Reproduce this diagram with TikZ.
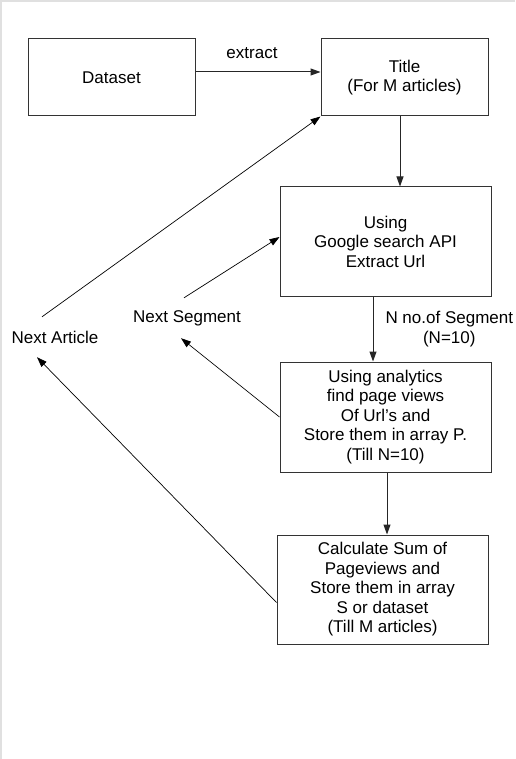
\documentclass[tikz,border=0pt]{standalone}
\usepackage{fontspec}
\setmainfont{Liberation Sans}
\usetikzlibrary{arrows.meta,positioning}

\begin{document}
\begin{tikzpicture}[x=1pt,y=-1pt,>={Triangle[length=10pt,width=7pt]},
    font=\fontsize{17}{19.5}\selectfont]
  \tikzstyle{box}=[draw=black!80,line width=1pt,align=center,inner sep=0pt]
  \tikzstyle{lbl}=[align=center,inner sep=0pt,minimum height=40pt]
  \tikzstyle{flow}=[->,line width=1pt,draw=black!85]
  \tikzstyle{back}=[->,line width=0.7pt]
  \useasboundingbox (0,0) rectangle (515,759);
  % page edge
  \fill[black!12] (0,0) rectangle (515,2);
  \fill[black!12] (0,0) rectangle (2,759);
  \node[box,minimum width=167pt,minimum height=77pt] (data) at (111.5,77.5) {Dataset};
  \node[box,minimum width=167pt,minimum height=77pt,right=125pt of data] (title) {Title\\(For M articles)};
  \node[box,minimum width=211pt,minimum height=109pt,below=70pt of title,xshift=-19pt] (google) {Using\\Google search API\\Extract Url};
  \node[box,minimum width=211pt,minimum height=110pt,below=65pt of google] (views) {Using analytics\\find page views\\Of Url’s and\\Store them in array P.\\(Till N=10)};
  \node[box,minimum width=211pt,minimum height=109pt,below=62pt of views,xshift=-3pt] (sum) {Calculate Sum of\\Pageviews and\\Store them in array\\S or dataset\\(Till M articles)};
  \node[lbl] (nseg) at (187,318) {Next Segment};
  \node[lbl] (nart) at (55,337) {Next Article};
  \draw[flow] ([yshift=5.5pt]data.east) -- node[above=13pt,xshift=-6pt,inner sep=0pt] (ext) {extract} ([yshift=5.5pt]title.west);
  \draw[flow] ([xshift=-4.5pt]title.south) -- ([xshift=-4.5pt]title.south |- google.north);
  \draw[flow] ([xshift=-12.5pt]google.south) -- node[right=12pt,align=center,inner sep=0pt] (nno) {N no.of Segment\\(N=10)} ([xshift=-12.5pt]google.south |- views.north);
  \draw[flow] ([xshift=1.5pt]views.south) -- ([xshift=1.5pt]views.south |- sum.north);
  % loops back
  \draw[back] (views.west) -- ([xshift=-6pt]nseg.south);
  \draw[back] ([xshift=-3pt]nseg.north) -- ([yshift=4.5pt]google.west);
  \draw[back] ([yshift=-13pt]sum.west) -- ([xshift=-18pt]nart.south);
  \draw[back] ([xshift=-13pt]nart.north) -- (title.south west);
\end{tikzpicture}
\end{document}
